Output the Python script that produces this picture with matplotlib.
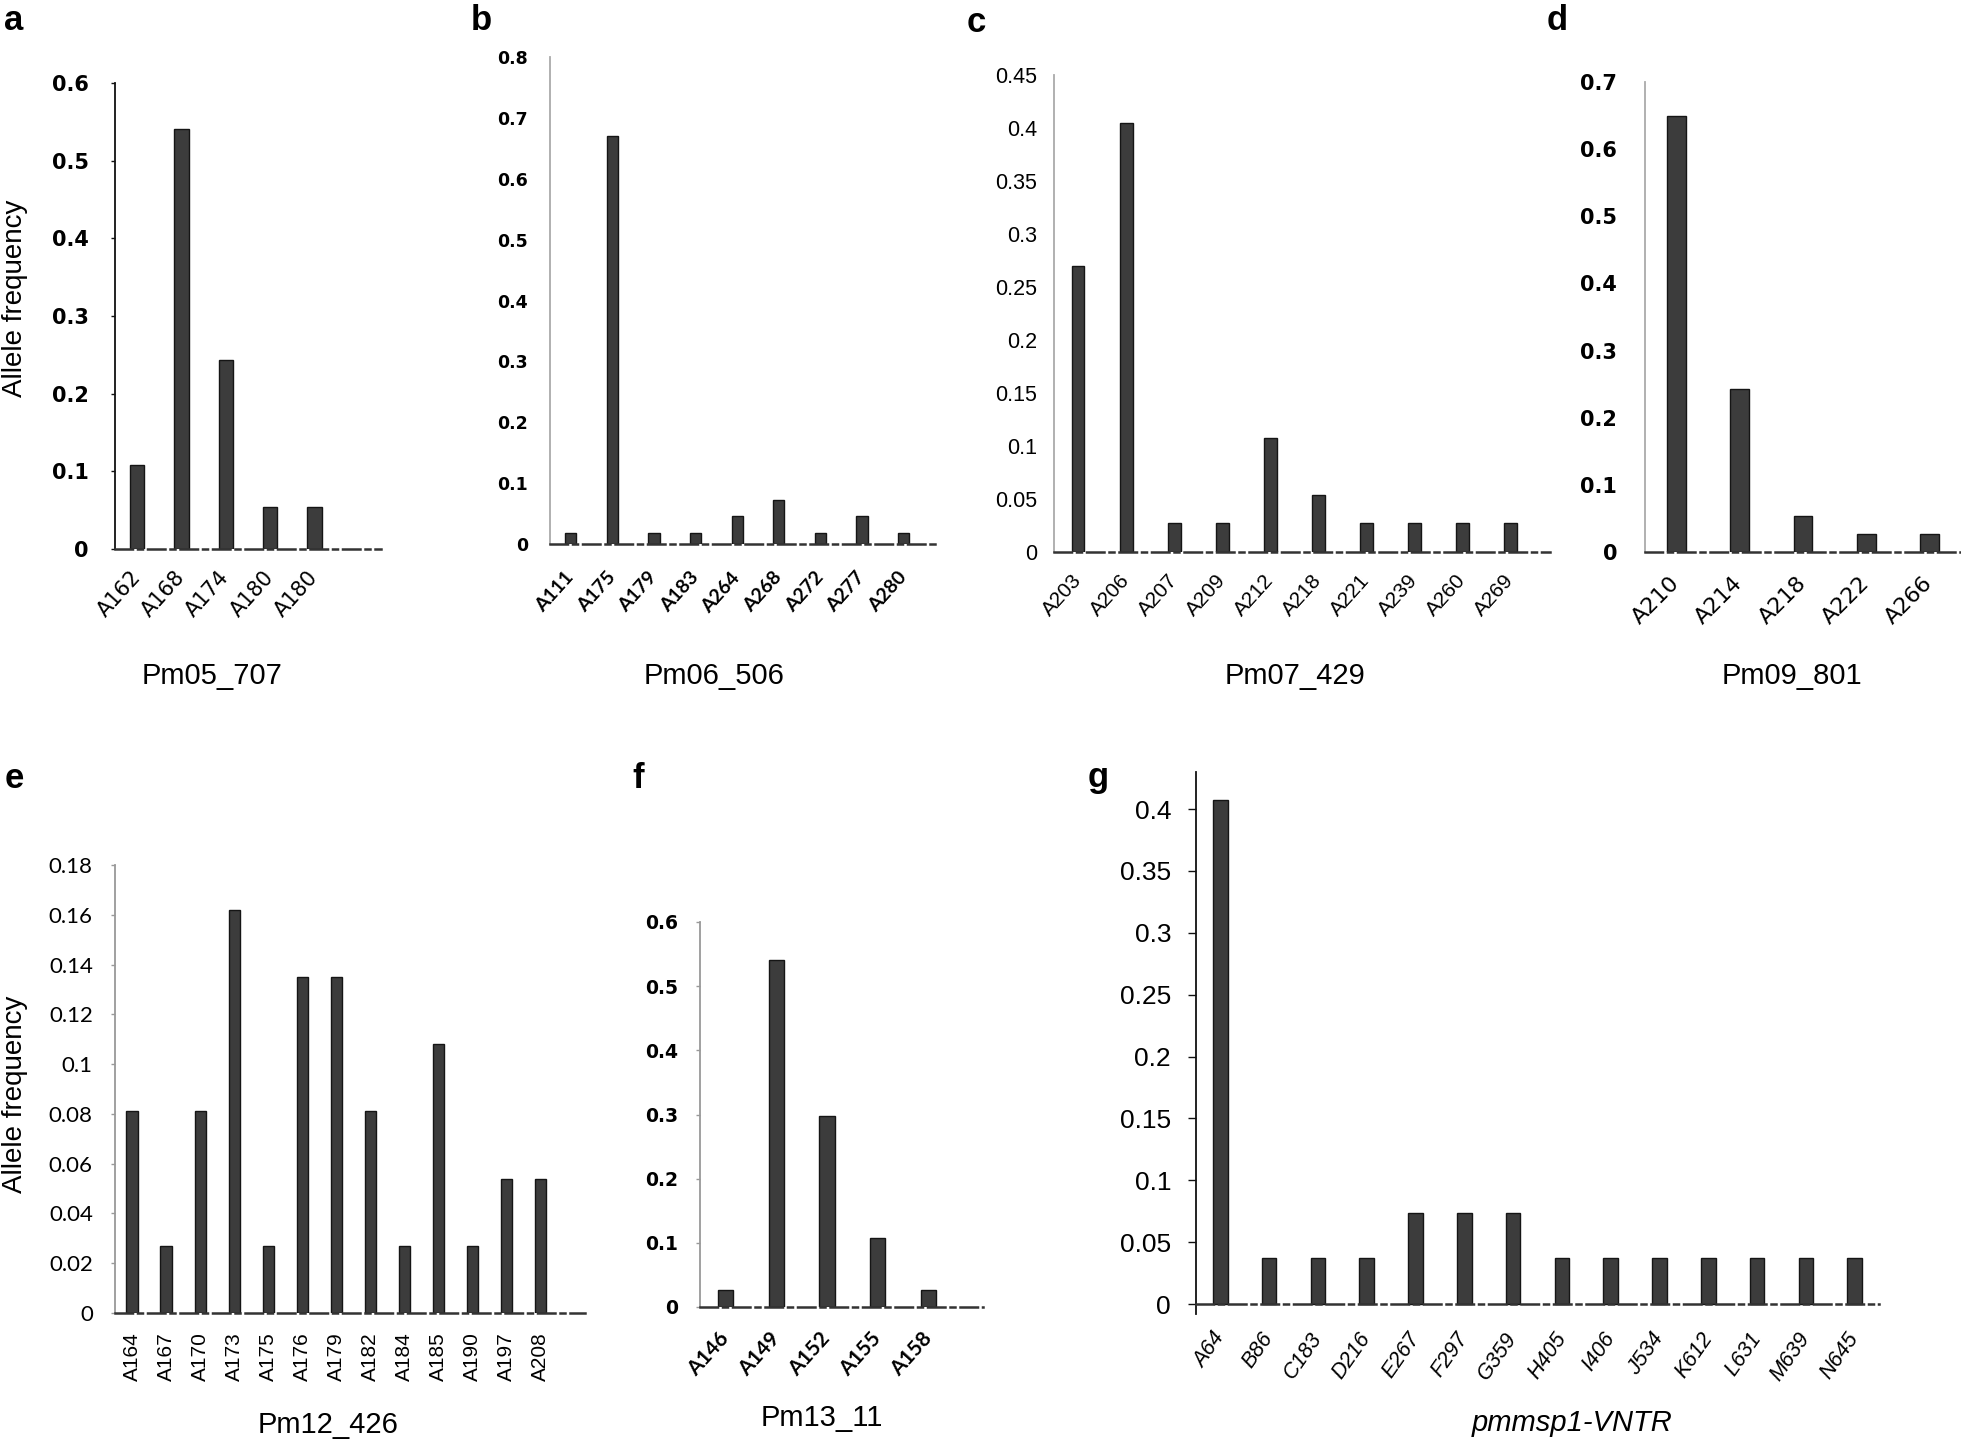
import matplotlib
matplotlib.use("Agg")
import matplotlib.pyplot as plt

# allele frequencies
a_labels = ["A162", "A168", "A174", "A180", "A180"]
a_freq = [0.108, 0.541, 0.243, 0.054, 0.054]

b_labels = ["A111", "A175", "A179", "A183", "A264", "A268", "A272", "A277", "A280"]
b_freq = [0.018, 0.670, 0.018, 0.018, 0.046, 0.073, 0.018, 0.046, 0.018]

c_labels = ["A203", "A206", "A207", "A209", "A212", "A218", "A221", "A239", "A260", "A269"]
c_freq = [0.270, 0.405, 0.027, 0.027, 0.108, 0.054, 0.027, 0.027, 0.027, 0.027]

d_labels = ["A210", "A214", "A218", "A222", "A266"]
d_freq = [0.649, 0.243, 0.054, 0.027, 0.027]

e_labels = ["A164", "A167", "A170", "A173", "A175", "A176", "A179",
            "A182", "A184", "A185", "A190", "A197", "A208"]
e_freq = [0.081, 0.027, 0.081, 0.162, 0.027, 0.135, 0.135,
          0.081, 0.027, 0.108, 0.027, 0.054, 0.054]

f_labels = ["A146", "A149", "A152", "A155", "A158"]
f_freq = [0.027, 0.541, 0.297, 0.108, 0.027]

g_labels = ["A64", "B86", "C183", "D216", "E267", "F297", "G359",
            "H405", "I406", "J534", "K612", "L631", "M639", "N645"]
g_freq = [0.407, 0.037, 0.037, 0.037, 0.074, 0.074, 0.074,
          0.037, 0.037, 0.037, 0.037, 0.037, 0.037, 0.037]

W, H = 1961, 1444
fig = plt.figure(figsize=(W / 100, H / 100), dpi=100)

ARIAL = ["Liberation Sans", "DejaVu Sans"]
NARROW = ["Liberation Sans Narrow", "Liberation Sans", "DejaVu Sans"]
VERD = ["DejaVu Sans"]
CALI = ["Lato", "Liberation Sans", "DejaVu Sans"]


def box(x0, x1, ytop, ybase):
    # pixel box -> figure fraction
    return [x0 / W, 1 - ybase / H, (x1 - x0) / W, (ybase - ytop) / H]


def panel(rect, labels, freq, ylim, yticks, xmax, width, spine_col, ytick_font,
          ytick_size, ytick_weight, ypad, ylen, xfont, xsize, xrot, xpad,
          xstyle="normal", xweight="normal", ytext=None, zero_spine=False):
    ax = fig.add_axes(rect)
    x = list(range(len(labels)))
    ax.bar(x, freq, width=width, color="#3c3c3c", edgecolor="#151515", linewidth=1.0, zorder=3)
    ax.set_xlim(-0.5, xmax)
    ax.set_ylim(*ylim)
    if zero_spine:
        # baseline sits at 0 while the y axis runs a little below it
        ax.spines["bottom"].set_position(("data", 0))
    ax.set_yticks(yticks)
    if ytext is None:
        ytext = [("%g" % t) for t in yticks]
    ax.set_yticklabels(ytext, family=ytick_font, fontsize=ytick_size, fontweight=ytick_weight)
    ax.set_xticks(x)
    if xrot == 90:
        ax.set_xticklabels(labels, rotation=90, family=xfont, fontsize=xsize,
                           style=xstyle, fontweight=xweight)
    else:
        ax.set_xticklabels(labels, rotation=xrot, ha="right", va="center",
                           rotation_mode="anchor", family=xfont, fontsize=xsize,
                           style=xstyle, fontweight=xweight)
    ax.tick_params(axis="x", length=0, pad=xpad)
    ax.tick_params(axis="y", length=ylen, pad=ypad, color=spine_col, width=1.0)
    for s in ["top", "right"]:
        ax.spines[s].set_visible(False)
    ax.spines["left"].set_color(spine_col)
    ax.spines["left"].set_linewidth(1.3)
    ax.spines["bottom"].set_color("#333333")
    ax.spines["bottom"].set_linewidth(1.8)
    ax.spines["bottom"].set_linestyle((0, (7, 2, 2, 2)))
    ax.spines["bottom"].set_zorder(4)
    return ax


# top row
panel(box(115, 381, 83, 549), a_labels, a_freq, (0, 0.6), [0, 0.1, 0.2, 0.3, 0.4, 0.5, 0.6],
      5.5, 0.32, "#111111", VERD, 15, "bold", 16, 3, VERD, 15, 48, 18)
panel(box(550, 937, 57, 544), b_labels, b_freq, (0, 0.8), [0, 0.1, 0.2, 0.3, 0.4, 0.5, 0.6, 0.7, 0.8],
      8.8, 0.27, "#aaaaaa", VERD, 12.5, "bold", 16, 0, CALI, 14, 48, 22, xweight="bold")
panel(box(1054, 1550, 75, 552), c_labels, c_freq, (0, 0.45),
      [0, 0.05, 0.1, 0.15, 0.2, 0.25, 0.3, 0.35, 0.4, 0.45],
      9.83, 0.27, "#aaaaaa", ARIAL, 15.5, "normal", 12, 0, ARIAL, 15, 48, 18)
panel(box(1645, 1961, 82, 552), d_labels, d_freq, (0, 0.7), [0, 0.1, 0.2, 0.3, 0.4, 0.5, 0.6, 0.7],
      4.5, 0.3, "#aaaaaa", VERD, 15, "bold", 20, 0, VERD, 16, 45, 20)

# bottom row
panel(box(115, 585, 865, 1313), e_labels, e_freq, (0, 0.18),
      [0, 0.02, 0.04, 0.06, 0.08, 0.1, 0.12, 0.14, 0.16, 0.18],
      13.3, 0.33, "#999999", CALI, 16, "normal", 13, 3, ARIAL, 15, 90, 14)
panel(box(700, 983, 922, 1307), f_labels, f_freq, (0, 0.6), [0, 0.1, 0.2, 0.3, 0.4, 0.5, 0.6],
      5.07, 0.3, "#999999", VERD, 13.5, "bold", 13, 3, CALI, 15, 48, 20, xweight="bold")
g_ticks = [0, 0.05, 0.1, 0.15, 0.2, 0.25, 0.3, 0.35, 0.4]
panel(box(1196, 1879, 772, 1314), g_labels, g_freq, (-0.008, 0.43), g_ticks,
      13.5, 0.3, "#111111", NARROW, 19, "normal", 12, 6, ARIAL, 15.5, 55, 22,
      xstyle="italic", ytext=["0", "0.05", "0.1", "0.15", "0.2", "0.25", "0.3", "0.35", "0.4"],
      zero_spine=True)

# marker names under each panel
titles = [("Pm05_707", 212, 676, ARIAL, "normal"),
          ("Pm06_506", 714, 676, ARIAL, "normal"),
          ("Pm07_429", 1295, 676, ARIAL, "normal"),
          ("Pm09_801", 1792, 676, ARIAL, "normal"),
          ("Pm12_426", 328, 1425, NARROW, "normal"),
          ("Pm13_11", 822, 1418, NARROW, "normal"),
          ("pmmsp1-VNTR", 1572, 1423, NARROW, "italic")]
for txt, x, y, fam, st in titles:
    fig.text(x / W, 1 - y / H, txt, ha="center", va="center", family=fam,
             fontsize=21, style=st)

# panel letters
letters = [("a", 14, 20), ("b", 481, 20), ("c", 976, 22), ("d", 1557, 20),
           ("e", 14, 779), ("f", 638, 778), ("g", 1098, 778)]
for t, x, y in letters:
    fig.text(x / W, 1 - y / H, t, ha="center", va="center", family=ARIAL,
             fontsize=25, fontweight="bold")

# y-axis titles
fig.text(15 / W, 1 - 298 / H, "Allele frequency", rotation=90, ha="center",
         va="center", family=ARIAL, fontsize=20)
fig.text(15 / W, 1 - 1094 / H, "Allele frequency", rotation=90, ha="center",
         va="center", family=ARIAL, fontsize=20)

fig.savefig("out.png", dpi=100, facecolor="white")
